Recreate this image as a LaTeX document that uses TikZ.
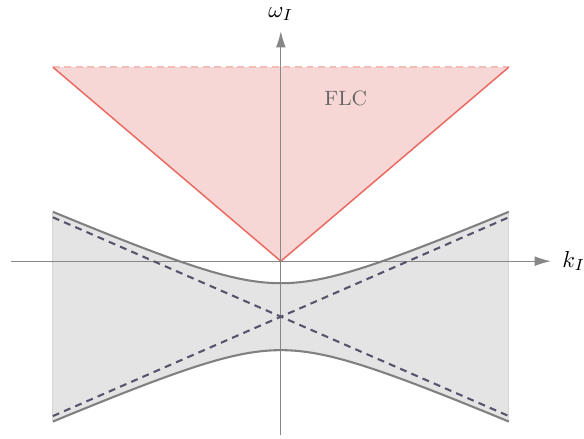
\documentclass[tikz,border=0pt]{standalone}
\usepackage{amsmath}
\usetikzlibrary{arrows.meta,positioning}
\definecolor{flcred}{RGB}{232,106,96}
\definecolor{flcfill}{RGB}{247,215,214}
\definecolor{bandfill}{RGB}{228,228,228}
\definecolor{bandline}{RGB}{128,128,128}
\definecolor{asym}{RGB}{84,84,108}
\definecolor{axisgray}{RGB}{135,135,135}

\begin{document}
\begin{tikzpicture}[
  axis/.style={draw=axisgray,line width=0.45pt,-{Latex[length=7pt,width=4.2pt]}},
  hyp/.style={draw=bandline,line width=0.9pt},
  asymline/.style={draw=asym,line width=0.9pt,dash pattern=on 3pt off 2.3pt},
  lbl/.style={inner sep=1pt,font=\normalsize}
]
\useasboundingbox (-4.28,-2.71) rectangle (4.62,3.98);
% band between the two branches
\fill[bandfill]
  plot[domain=-3.475:3.475,samples=80] (\x,{-0.846+sqrt(0.51*0.51+(0.436*\x)*(0.436*\x))})
  -- plot[domain=3.475:-3.475,samples=80] (\x,{-0.846-sqrt(0.51*0.51+(0.436*\x)*(0.436*\x))})
  -- cycle;
\draw[black!17,line width=0.5pt] (-3.475,0.735) -- (-3.475,-2.427);
\draw[black!17,line width=0.5pt] (3.475,0.735) -- (3.475,-2.427);
% forward light cone
\coordinate (apex) at (0,0);
\coordinate (tl) at (-3.475,2.957);
\coordinate (tr) at (3.475,2.957);
\fill[flcfill] (apex) -- (tl) -- (tr) -- cycle;
\draw[flcred!45,line width=0.7pt,dash pattern=on 3pt off 2pt] (tl) -- (tr);
\draw[flcred,line width=0.65pt] (tl) -- (apex) -- (tr);
\node[text=black!60,font=\small] (flc) at (0.99,2.48) {FLC};
% axes
\coordinate (xl) at (-4.115,0);
\coordinate (yb) at (0,-2.65);
\node[lbl,anchor=west] (kI) at (4.25,0) {$k_I$};
\node[lbl,anchor=south] (wI) at (0,3.62) {$\omega_I$};
\draw[axis] (xl) -- (4.115,0);
\draw[axis] (yb) -- (0,3.505);
% asymptotes
\draw[asymline] (-3.475,0.669) -- (3.475,-2.361);
\draw[asymline] (-3.475,-2.361) -- (3.475,0.669);
% branches
\draw[hyp] plot[domain=-3.475:3.475,samples=80] (\x,{-0.846+sqrt(0.51*0.51+(0.436*\x)*(0.436*\x))});
\draw[hyp] plot[domain=-3.475:3.475,samples=80] (\x,{-0.846-sqrt(0.51*0.51+(0.436*\x)*(0.436*\x))});
\end{tikzpicture}
\end{document}
